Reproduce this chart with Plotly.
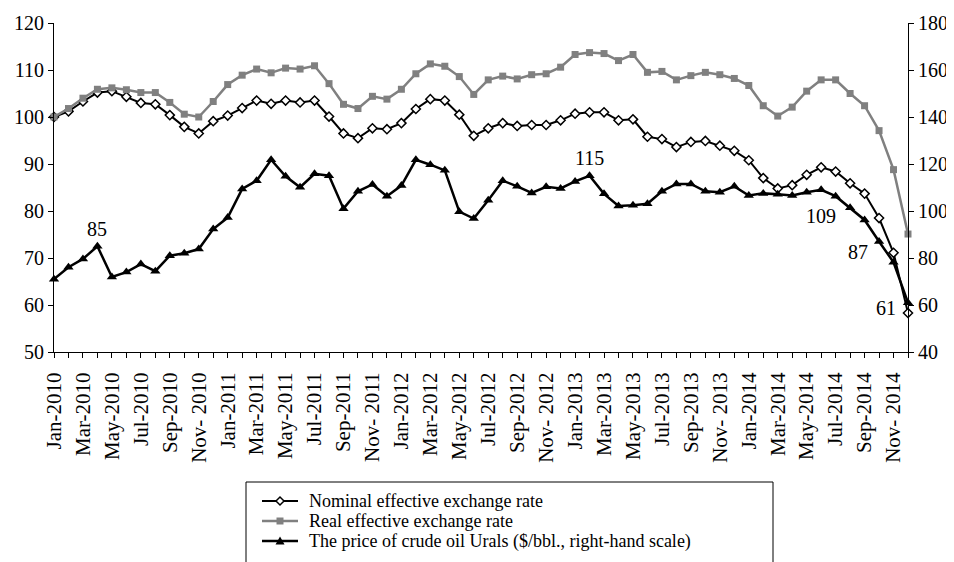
import plotly.graph_objects as go

months = [f"{m}-{y}" for y in range(2010, 2015) for m in
          ["Jan", "Feb", "Mar", "Apr", "May", "Jun", "Jul", "Aug", "Sep", "Oct", "Nov", "Dec"]]

tick_labels = ["Jan-2010", "Mar-2010", "May-2010", "Jul-2010", "Sep-2010", "Nov- 2010",
               "Jan-2011", "Mar-2011", "May-2011", "Jul-2011", "Sep-2011", "Nov- 2011",
               "Jan-2012", "Mar-2012", "May-2012", "Jul-2012", "Sep-2012", "Nov- 2012",
               "Jan-2013", "Mar-2013", "May-2013", "Jul-2013", "Sep-2013", "Nov- 2013",
               "Jan-2014", "Mar-2014", "May-2014", "Jul-2014", "Sep-2014", "Nov- 2014"]

series_names = ["Nominal effective exchange rate",
                "Real effective exchange rate",
                "The price of crude oil Urals ($/bbl., right-hand scale)"]

nominal = [100.0, 101.2, 103.3, 105.2, 105.5, 104.3, 103.0, 102.7, 100.4, 97.9,
           96.5, 99.1, 100.3, 101.9, 103.5, 102.8, 103.5, 103.1, 103.5, 100.1,
           96.5, 95.5, 97.6, 97.4, 98.7, 101.7, 103.8, 103.5, 100.5, 96.0,
           97.6, 98.7, 98.1, 98.3, 98.3, 99.3, 100.7, 101.0, 101.0, 99.3,
           99.5, 95.8, 95.3, 93.6, 94.7, 94.9, 93.9, 92.8, 90.8, 87.0,
           84.8, 85.5, 87.7, 89.3, 88.4, 85.9, 83.7, 78.5, 71.1, 58.3]

real = [100.0, 101.8, 104.0, 105.9, 106.2, 105.8, 105.2, 105.2, 103.1, 100.6,
        100.0, 103.3, 106.9, 108.9, 110.2, 109.4, 110.4, 110.2, 110.9, 107.1,
        102.7, 101.8, 104.4, 103.8, 105.9, 109.2, 111.3, 110.8, 108.6, 104.8,
        107.9, 108.7, 108.1, 109.0, 109.2, 110.6, 113.3, 113.7, 113.5, 112.0,
        113.3, 109.5, 109.7, 107.9, 108.8, 109.5, 109.0, 108.2, 106.7, 102.4,
        100.2, 102.1, 105.5, 107.9, 107.9, 105.0, 102.4, 97.1, 88.8, 75.1]

oil = [71.0, 76.1, 79.6, 85.0, 71.9, 74.0, 77.4, 74.4, 81.0, 82.0,
       83.8, 92.3, 97.2, 109.4, 112.9, 121.8, 114.8, 110.1, 115.8, 115.0,
       101.0, 108.4, 111.3, 106.3, 110.8, 121.8, 119.7, 117.3, 99.7, 96.8,
       104.6, 112.9, 110.5, 107.7, 110.3, 109.6, 112.6, 115.0, 107.3, 102.1,
       102.5, 103.1, 108.4, 111.5, 111.5, 108.4, 108.0, 110.5, 106.6, 107.5,
       107.1, 106.6, 108.0, 109.0, 106.3, 101.4, 96.2, 87.0, 78.2, 61.0]

# indices of labelled oil points and label offsets (px)
oil_labels = [(3, 0, 17), (37, 0, 18), (53, 0, -26), (57, -21, -10), (59, -22, -5)]

FONT = "Liberation Serif"
# page has an 8px body margin: figure is sized to fill the rest of the 954x562 window
OFF = 8
W, H = 954 - OFF, 562 - OFF
ML, MR, MT, MB = 46, 46, 15, 210
PW, PH = W - ML - MR, H - MT - MB


def px(xp):  # window pixel -> paper x
    return (xp - OFF - ML) / PW


def py(yp):  # window pixel -> paper y
    return (H - MB - (yp - OFF)) / PH


x = list(range(len(months)))

fig = go.Figure()
fig.add_trace(go.Scatter(
    x=x, y=nominal, mode="lines+markers", name=series_names[0],
    line=dict(color="black", width=2),
    marker=dict(symbol="diamond", size=7, color="white", line=dict(color="black", width=1.5)),
    cliponaxis=False))
fig.add_trace(go.Scatter(
    x=x, y=real, mode="lines+markers", name=series_names[1],
    line=dict(color="#808080", width=2.5),
    marker=dict(symbol="square", size=7, color="#808080"),
    cliponaxis=False))
fig.add_trace(go.Scatter(
    x=x, y=oil, mode="lines+markers", yaxis="y2", name=series_names[2],
    line=dict(color="black", width=2.5),
    marker=dict(symbol="triangle-up", size=9, color="black"),
    cliponaxis=False))

for i, dx, dy in oil_labels:
    fig.add_annotation(x=i, y=oil[i], xref="x", yref="y2", text=f"{oil[i]:.0f}",
                       showarrow=False, xshift=dx, yshift=dy,
                       font=dict(family=FONT, size=20, color="black"))

# ---- legend box drawn below the plot (Excel-style, tight rows) ----
box_l, box_r, box_t, box_b = 246, 773, 482, 580
fig.add_shape(type="rect", xref="paper", yref="paper",
              x0=px(box_l), x1=px(box_r), y0=py(box_b), y1=py(box_t),
              line=dict(color="black", width=1), fillcolor="white", layer="above")
rows = [501, 521, 541]
line_cols = ["black", "#808080", "black"]
line_w = [2, 2.5, 2.5]
for k, ry in enumerate(rows):
    fig.add_shape(type="line", xref="paper", yref="paper",
                  x0=px(262), x1=px(298), y0=py(ry), y1=py(ry),
                  line=dict(color=line_cols[k], width=line_w[k]), layer="above")
    fig.add_annotation(x=px(307), y=py(ry), xref="paper", yref="paper",
                       xanchor="left", yanchor="middle", showarrow=False,
                       text=series_names[k], font=dict(family=FONT, size=18, color="black"))
cx = 280
# diamond (nominal)
fig.add_shape(type="path", xref="paper", yref="paper", layer="above",
              path=f"M {px(cx-4)},{py(rows[0])} L {px(cx)},{py(rows[0]-4)} "
                   f"L {px(cx+4)},{py(rows[0])} L {px(cx)},{py(rows[0]+4)} Z",
              fillcolor="white", line=dict(color="black", width=1.5))
# square (real)
fig.add_shape(type="rect", xref="paper", yref="paper", layer="above",
              x0=px(cx-3.5), x1=px(cx+3.5), y0=py(rows[1]+3.5), y1=py(rows[1]-3.5),
              fillcolor="#808080", line=dict(width=0))
# triangle (oil)
fig.add_shape(type="path", xref="paper", yref="paper", layer="above",
              path=f"M {px(cx-4.5)},{py(rows[2]+3.5)} L {px(cx+4.5)},{py(rows[2]+3.5)} "
                   f"L {px(cx)},{py(rows[2]-4.5)} Z",
              fillcolor="black", line=dict(width=0))

fig.update_layout(
    width=W, height=H,
    margin=dict(l=ML, r=MR, t=MT, b=MB),
    paper_bgcolor="white", plot_bgcolor="white",
    font=dict(family=FONT, size=20, color="black"),
    showlegend=False,
    xaxis=dict(range=[0, len(months) - 1], showgrid=False, zeroline=False,
               automargin=False,
               showline=True, linecolor="black", linewidth=1,
               tickmode="array", tickvals=x[::2], ticktext=tick_labels,
               tickangle=-90, ticks="outside", ticklen=5, tickcolor="black",
               ticklabelstandoff=6,
               minor=dict(tickmode="array", tickvals=x, ticks="outside", ticklen=5, tickcolor="black"),
               tickfont=dict(family=FONT, size=21)),
    yaxis=dict(range=[50, 120], dtick=10, showgrid=False, zeroline=False,
               automargin=False,
               showline=True, linecolor="black", linewidth=1,
               ticks="outside", ticklen=5, tickcolor="black",
               tickfont=dict(family=FONT, size=20)),
    yaxis2=dict(range=[40, 180], dtick=20, overlaying="y", side="right",
                showgrid=False, zeroline=False, automargin=False,
                showline=True, linecolor="black", linewidth=1,
                ticks="outside", ticklen=5, tickcolor="black",
                tickfont=dict(family=FONT, size=20)),
)

fig.write_html("out.html")
